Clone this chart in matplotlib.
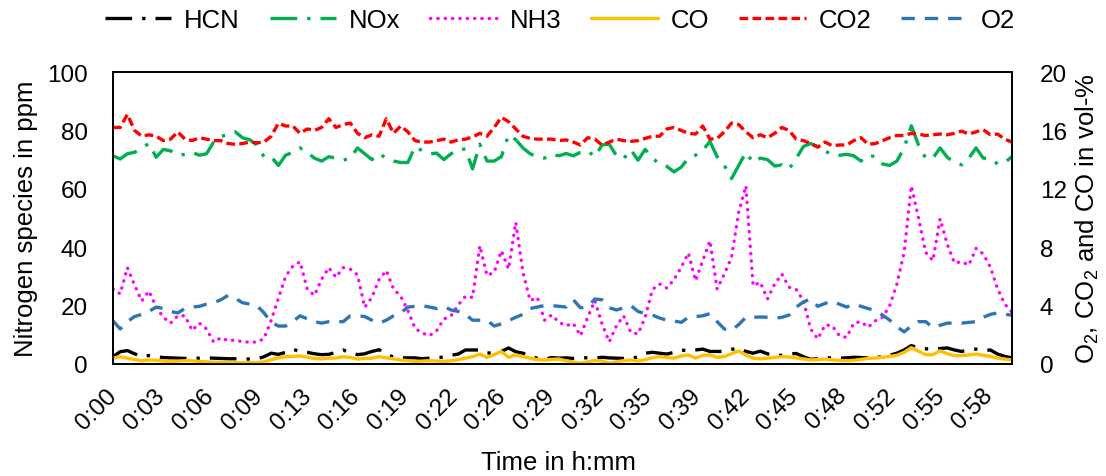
import numpy as np
import matplotlib
matplotlib.use('Agg')
import matplotlib.pyplot as plt

plt.rcParams['font.family'] = ['Liberation Sans', 'DejaVu Sans']
plt.rcParams['mathtext.fontset'] = 'custom'
plt.rcParams['mathtext.rm'] = 'Liberation Sans'
plt.rcParams['mathtext.default'] = 'regular'

# time axis: 126 samples over one hour
time_min = np.linspace(0, 60, 126)

tick_labels = ['0:00', '0:03', '0:06', '0:09', '0:13', '0:16', '0:19', '0:22', '0:26', '0:29',
               '0:32', '0:35', '0:39', '0:42', '0:45', '0:48', '0:52', '0:55', '0:58']

# nitrogen species in ppm (left axis)
hcn = [2.5, 4.2, 4.6, 3.5, 2.5, 2.9, 2.5, 2.2, 2.1, 2.0, 1.9, 1.9, 2.0, 2.1, 2.0, 1.9, 1.8, 1.8, 1.7, 1.7,
       1.7, 2.5, 3.7, 3.3, 4.0, 5.1, 4.2, 4.0, 3.5, 3.2, 3.3,
       4.0, 4.8, 3.8, 3.2, 3.5, 4.3, 4.9, 3.5, 2.3, 2.1, 2.1, 2.1, 1.8, 2.0, 2.3, 2.3, 3.0, 3.4, 4.8, 4.8,
       4.8, 3.8, 3.7, 4.3, 5.5, 4.2, 3.7, 2.6, 2.0, 1.7,
       2.2, 2.0, 2.1, 1.9, 2.2, 2.1, 2.0, 2.3, 2.1, 2.0, 1.9, 1.7, 2.5, 3.7, 4.0, 3.7, 3.4, 4.0, 4.8, 4.5,
       4.8, 5.1, 4.3, 4.3, 4.3, 5.0, 5.5, 4.3, 3.7, 4.4,
       3.5, 2.9, 3.0, 3.5, 3.6, 2.5, 1.6, 1.8, 2.1, 2.1, 2.0, 2.1, 2.3, 2.2, 2.1, 2.2, 2.5, 3.0, 3.7, 4.8,
       6.3, 5.5, 5.2, 5.1, 5.3, 5.5, 4.8, 4.3, 4.8, 5.1, 4.6, 4.8, 3.4, 2.6, 2.1]

nox = [71.3, 70.2, 72, 72.5, 74, 75.5, 70.8, 73.5, 73, 71.5, 71.8, 72.5, 71.5, 72, 76, 78, 78.5, 79.5,
       77.5, 76.8, 75, 71, 71, 68, 71.5, 72.5, 74, 72.5, 70.5, 69.5, 71,
       70.5, 69.8, 70.5, 74, 72, 70, 72, 70.5, 69.5, 69, 69, 74.5, 73, 72, 72.2, 70, 72, 73.5, 73.6, 66.8,
       75.3, 69.5, 69.5, 71, 78.5, 76.8, 74, 72, 71, 70.5,
       71.8, 71.3, 72.1, 71.3, 72.5, 73, 71, 75, 75.3, 71.3, 70.3, 73.4, 69.8, 73.5, 70.5, 68.5, 67.7, 65.8,
       67.4, 70.5, 71.5, 73.2, 76.2, 71, 68, 63.5, 68, 72.5, 69, 70.5,
       70, 67.8, 68.2, 66.8, 70.4, 74.5, 75.5, 74.5, 73, 71.5, 71.5, 71.8, 71.3, 69.5, 71.5, 71, 68.5, 68,
       69.5, 74, 81.6, 75, 70.5, 70.5, 74, 70.8, 69, 68.2, 70.5, 74, 70.5, 70.4, 68.5, 69, 71]

nh3 = [25.7, 24, 33, 27, 21.6, 25, 19.5, 16, 14, 16.5, 16.5, 11.5, 14, 12, 7.5, 9, 8, 8.2, 7.6, 7.5,
       7.5, 8.7, 15, 22.5, 30, 33.5, 35, 25.7, 23.5, 29, 33,
       29.7, 33, 32.5, 30.5, 19.4, 22.8, 29, 32, 25.7, 23.2, 18.3, 12.2, 10.6, 9.7, 11.4, 15.4, 16.5, 20.2,
       23.2, 22.8, 40.5, 30.3, 31.4, 38.8, 32.5, 48.5, 31.4, 21.7, 22.8, 15,
       16.8, 14.3, 13.1, 13.9, 9.7, 16, 21.7, 13.7, 7.6, 13.1, 16.5, 10.8, 10.3, 16, 25.5, 27.4, 26, 28.9,
       33.1, 38, 28.5, 35.4, 42.2, 25.7, 30.8, 36.5, 52, 61, 26.8, 28,
       22.3, 27.4, 30.8, 26.3, 25.5, 21.7, 12, 8.6, 13.4, 13.1, 9.7, 9.1, 14, 14.5, 12.6, 14.8, 16, 20,
       27.4, 38.2, 61, 50, 38.2, 35.4, 49.7, 41, 34.6, 35, 33.9, 39.6, 37.7, 33.1, 25.7, 20.5, 17.7]

# gases in vol-% (right axis)
co = [0.41, 0.5, 0.4, 0.3, 0.22, 0.27, 0.25, 0.2, 0.18, 0.2, 0.23, 0.22, 0.17, 0.15, 0.12, 0.11, 0.1,
      0.09, 0.09, 0.09, 0.1, 0.15, 0.3, 0.42, 0.5, 0.52, 0.55, 0.47, 0.38, 0.35, 0.4,
      0.41, 0.5, 0.45, 0.34, 0.38, 0.4, 0.5, 0.42, 0.35, 0.27, 0.23, 0.18, 0.2, 0.23, 0.2, 0.18, 0.22,
      0.3, 0.4, 0.5, 0.68, 0.45, 0.65, 0.85, 0.46, 0.63, 0.5, 0.4, 0.3, 0.27,
      0.32, 0.34, 0.22, 0.14, 0.05, 0.15, 0.24, 0.2, 0.05, 0.15, 0.23, 0.27, 0.2, 0.3, 0.43, 0.5, 0.45,
      0.4, 0.55, 0.62, 0.4, 0.6, 0.62, 0.45, 0.52, 0.7, 0.9, 0.6, 0.4, 0.35,
      0.4, 0.45, 0.5, 0.48, 0.42, 0.35, 0.28, 0.3, 0.34, 0.28, 0.24, 0.22, 0.25, 0.32, 0.38, 0.41, 0.45,
      0.52, 0.6, 0.8, 1.12, 0.88, 0.64, 0.64, 0.9, 0.7, 0.57, 0.58, 0.62, 0.68, 0.6, 0.52, 0.4, 0.34, 0.28]

co2 = [16.2, 16.2, 17.1, 16.0, 15.6, 15.7, 15.6, 15.3, 15.4, 15.9, 15.4, 15.3, 15.5, 15.4, 15.3, 15.3,
       15.1, 15.05, 15.1, 15.2, 15.15, 15.2, 15.6, 16.5, 16.3, 16.3, 15.8, 16.1, 16.0, 16.2, 16.8,
       16.2, 16.4, 16.5, 15.8, 15.5, 15.7, 15.6, 16.8, 15.8, 16.3, 15.9, 15.3, 15.2, 15.2, 15.3, 15.4,
       15.2, 15.35, 15.4, 15.55, 15.8, 15.6, 16.2, 16.9, 16.6, 16.1, 15.6, 15.45, 15.4, 15.4,
       15.4, 15.3, 15.35, 15.2, 15.0, 15.5, 15.4, 15.0, 15.2, 15.4, 15.3, 15.25, 15.3, 15.45, 15.6, 15.6,
       16.1, 16.2, 16.0, 15.8, 15.75, 16.3, 15.4, 15.45, 15.9, 16.5, 16.4, 15.9, 15.5, 15.7,
       15.5, 15.8, 16.2, 16.0, 15.4, 15.3, 15.1, 14.85, 15.2, 14.95, 15.0, 15.0, 15.3, 15.5, 15.05, 15.1,
       15.3, 15.5, 15.65, 15.65, 15.8, 15.75, 15.65, 15.7, 15.75, 15.7, 15.8, 15.95, 15.75, 15.9, 16.05,
       15.7, 15.75, 15.4, 15.2]

o2 = [2.95, 2.4, 2.9, 3.25, 3.4, 3.6, 3.9, 3.8, 3.6, 3.5, 3.8, 3.9, 3.95, 4.1, 4.2, 4.4, 4.7, 4.5, 4.2,
      4.1, 4.0, 3.5, 2.85, 2.6, 2.6, 2.9, 3.3, 3.1, 2.9, 2.8, 2.9,
      2.9, 2.9, 3.3, 3.3, 3.25, 3.0, 2.8, 3.0, 3.3, 3.5, 3.9, 3.95, 4.0, 3.9, 3.8, 3.95, 3.7, 3.6, 3.4,
      3.0, 3.0, 3.0, 2.6, 2.75, 2.97, 3.2, 3.4, 3.8, 3.9, 4.0,
      4.0, 3.95, 3.9, 4.4, 3.85, 3.9, 4.45, 4.4, 3.85, 3.7, 3.85, 4.0, 3.6, 3.45, 3.35, 3.15, 3.0, 2.95,
      2.85, 3.2, 3.25, 3.3, 3.45, 2.9, 2.4, 2.3, 2.7, 3.2, 3.2, 3.22,
      3.2, 3.13, 3.2, 3.35, 3.9, 4.25, 4.45, 3.95, 4.15, 4.3, 4.1, 3.9, 4.1, 3.95, 3.8, 3.65, 3.35, 3.0,
      2.55, 2.2, 2.6, 2.9, 2.9, 2.5, 2.65, 2.8, 2.8, 2.8, 2.85, 2.9, 3.2, 3.4, 3.5, 3.4, 3.35]

W, H = 1106, 477
fig = plt.figure(figsize=(W / 100, H / 100), dpi=100)
ax = fig.add_axes([113 / W, 112 / H, 899 / W, 292 / H])
ax2 = ax.twinx()

lw = 2.4
h1, = ax.plot(time_min, hcn, color='black', lw=lw, ls=(0, (8, 3, 1, 3)), label='HCN')
h2, = ax.plot(time_min, nox, color='#00B050', lw=lw, ls=(0, (8, 3, 1, 3)), label='NOx')
h3, = ax.plot(time_min, nh3, color='#FF00FF', lw=lw, ls=(0, (0.1, 2.1)), dash_capstyle='round', label='NH3')
h4, = ax2.plot(time_min, co, color='#FFC000', lw=lw, solid_capstyle='round', label='CO')
h5, = ax2.plot(time_min, co2, color='#FF0000', lw=lw, ls=(0, (2.6, 1.3)), label='CO2')
h6, = ax2.plot(time_min, o2, color='#2E75B6', lw=lw, ls=(0, (4, 3)), label='O2')

ax.set_xlim(0, 60)
ax.set_ylim(0, 100)
ax2.set_ylim(0, 20)
ax.set_yticks(range(0, 101, 20))
ax2.set_yticks(range(0, 21, 4))
ax.set_xticks([i * 3.25 for i in range(len(tick_labels))])
ax.set_xticklabels(tick_labels, rotation=45, ha='right', va='center', rotation_mode='anchor')

ax.tick_params(axis='both', length=0, labelsize=17.5)
ax.tick_params(axis='y', pad=18)
ax.tick_params(axis='x', pad=20)
ax2.tick_params(axis='y', length=0, labelsize=17.5, pad=20)

for a in (ax, ax2):
    for s in a.spines.values():
        s.set_linewidth(1.3)
        s.set_color('black')

ax.set_ylabel('Nitrogen species in ppm', fontsize=18.5)
ax.yaxis.set_label_coords(-0.083, 0.5)
ax2.set_ylabel('O$_2$, CO$_2$ and CO in vol-%', fontsize=18.5)
ax2.yaxis.set_label_coords(1.069, 0.5)
ax.set_xlabel('Time in h:mm', fontsize=18.5)
ax.xaxis.set_label_coords(0.495, -0.295)

fig.legend([h1, h2, h3, h4, h5, h6], ['HCN', 'NOx', 'NH3', 'CO', 'CO2', 'O2'],
           loc='center', bbox_to_anchor=(0.506, 0.956), ncol=6, frameon=False,
           fontsize=18.5, handlelength=2.6, handletextpad=0.5, columnspacing=1.15)

fig.savefig('out.png', dpi=100)
